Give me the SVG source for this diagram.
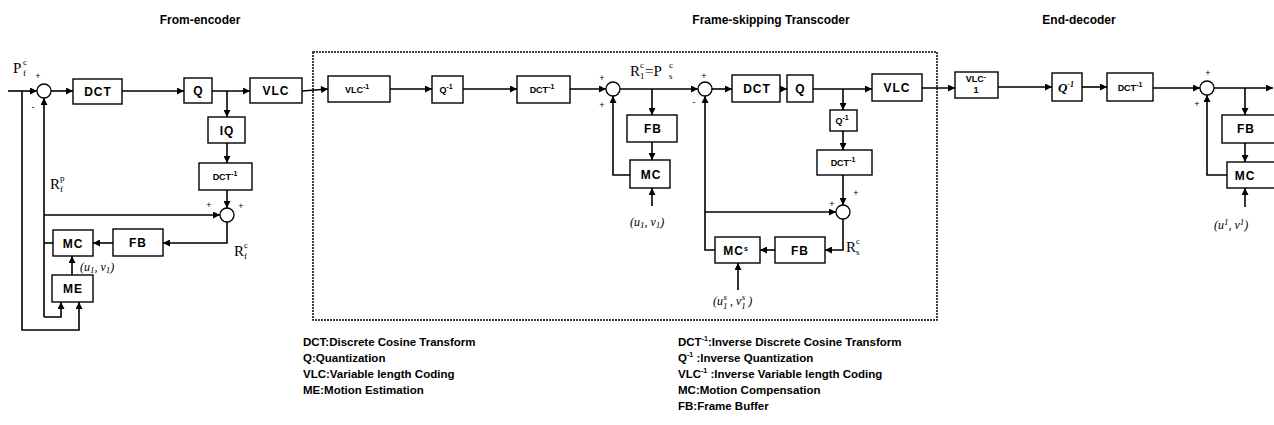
<svg xmlns="http://www.w3.org/2000/svg" width="1274" height="425" viewBox="0 0 1274 425">
<defs>
<marker id="ah" viewBox="0 0 10 10" refX="10" refY="5" markerWidth="8" markerHeight="7" orient="auto" markerUnits="userSpaceOnUse"><path d="M0,0 L10,5 L0,10 z" fill="#000"/></marker>
</defs>
<style>
.b{fill:#fff;stroke:#000;stroke-width:1.4}
.c{fill:#fff;stroke:#000;stroke-width:1.3}
.w{fill:none;stroke:#000;stroke-width:1.6;marker-end:url(#ah)}
.n{fill:none;stroke:#000;stroke-width:1.6}
.t{font-family:"Liberation Sans",Arial,sans-serif;font-weight:bold;font-size:12px;text-anchor:middle;letter-spacing:1px;fill:#000}
.ts{font-family:"Liberation Sans",Arial,sans-serif;font-weight:bold;font-size:9px;text-anchor:middle;fill:#000}
.sup{font-size:7px}
.m{font-family:"Liberation Sans",Arial,sans-serif;font-size:9px;text-anchor:middle;fill:#000}
.r{font-family:"Liberation Serif","Times New Roman",serif;font-size:15px;fill:#000}
.rs{font-family:"Liberation Serif","Times New Roman",serif;font-size:9px;fill:#000}
.uv{font-family:"Liberation Serif","Times New Roman",serif;font-size:12px;font-style:italic;fill:#000}
.ttl{font-family:"Liberation Sans",Arial,sans-serif;font-weight:bold;font-size:12px;text-anchor:middle;fill:#000}
.lg{font-family:"Liberation Sans",Arial,sans-serif;font-weight:bold;font-size:11.5px;fill:#000}
</style>
<rect x="0" y="0" width="1274" height="425" fill="#fff"/>

<g id="titles">
<text class="ttl" x="200" y="24">From-encoder</text>
<text class="ttl" x="771" y="24">Frame-skipping Transcoder</text>
<text class="ttl" x="1079" y="24">End-decoder</text>
</g>

<g id="transcoder-boundary">
<rect x="313" y="52" width="624" height="268" fill="none" stroke="#000" stroke-width="1.5" stroke-dasharray="2,1"/>
</g>

<g id="connectors">
<!-- encoder -->
<path class="w" d="M8,91 H37"/>
<path class="w" d="M51,91 H73"/>
<path class="w" d="M122,91 H184"/>
<path class="w" d="M212,91 H250"/>
<path class="w" d="M227,91 V117"/>
<path class="w" d="M227,143 V163"/>
<path class="w" d="M227,190 V208"/>
<path class="w" d="M44,215 H220"/>
<path class="w" d="M227,222 V243 H163"/>
<path class="w" d="M113,243 H93"/>
<path class="n" d="M53,243 H44"/>
<path class="w" d="M44,317 V98"/>
<path class="w" d="M44,317 H61 V302"/>
<path class="w" d="M22,91 V330 H79 V302"/>
<path class="w" d="M72,275 V256"/>
<path class="w" d="M302,91 L328,89"/>
<!-- transcoder -->
<path class="w" d="M390,89 H432"/>
<path class="w" d="M463,89 H517"/>
<path class="w" d="M570,89 H606"/>
<path class="w" d="M620,89 H698"/>
<path class="w" d="M652,89 V115"/>
<path class="w" d="M652,142 V160"/>
<path class="w" d="M630,175 H613 V96"/>
<path class="w" d="M652,206 V188"/>
<path class="w" d="M712,89 H732"/>
<path class="w" d="M780,89 H787"/>
<path class="w" d="M813,89 H872"/>
<path class="w" d="M843,89 V110"/>
<path class="w" d="M843,131 V150"/>
<path class="w" d="M843,175 V205"/>
<path class="w" d="M705,212 H836"/>
<path class="w" d="M843,219 V250 H825"/>
<path class="w" d="M775,250 H760"/>
<path class="w" d="M715,250 H705 V96"/>
<path class="w" d="M738,290 V263"/>
<path class="w" d="M922,88 H955"/>
<!-- decoder -->
<path class="w" d="M998,87 H1052"/>
<path class="w" d="M1082,87 H1107"/>
<path class="w" d="M1153,88 H1200"/>
<path class="w" d="M1214,88 H1273"/>
<path class="w" d="M1245,88 V115"/>
<path class="w" d="M1245,143 V162"/>
<path class="w" d="M1227,175 H1207 V95"/>
<path class="w" d="M1245,207 V188"/>
</g>

<!-- ===== From-encoder ===== -->
<g id="enc-input-label">
<text class="r" x="13" y="73">P</text><text class="rs" x="23" y="65">c</text><text class="rs" x="23" y="76">f</text>
<text class="m" x="38" y="79">+</text>
<text class="m" x="33" y="110">-</text>
</g>
<g id="enc-sum1"><circle class="c" cx="44" cy="91" r="7"/></g>
<g id="enc-dct"><rect class="b" x="73" y="79" width="49" height="25"/><text class="t" x="98" y="96">DCT</text></g>
<g id="enc-q"><rect class="b" x="184" y="78" width="28" height="25"/><text class="t" x="198.5" y="95">Q</text></g>
<g id="enc-vlc"><rect class="b" x="250" y="78" width="52" height="25"/><text class="t" x="276" y="95">VLC</text></g>
<g id="enc-iq"><rect class="b" x="208" y="117" width="37" height="26"/><text class="t" x="227" y="135">IQ</text></g>
<g id="enc-idct"><rect class="b" x="199" y="163" width="53" height="27"/><text class="ts" x="225" y="180">DCT<tspan class="sup" dy="-4">-1</tspan></text></g>
<g id="enc-sum2"><circle class="c" cx="227" cy="215" r="7"/>
<text class="m" x="209" y="208">+</text><text class="m" x="241" y="209">+</text></g>
<g id="enc-fb"><rect class="b" x="113" y="229" width="50" height="27"/><text class="t" x="138" y="247">FB</text></g>
<g id="enc-mc"><rect class="b" x="53" y="230" width="40" height="26"/><text class="t" x="73" y="248">MC</text></g>
<g id="enc-me"><rect class="b" x="52" y="275" width="41" height="27"/><text class="t" x="73" y="293">ME</text></g>
<g id="enc-labels">
<text class="uv" x="80" y="271">(u<tspan class="rs" dy="2">1</tspan><tspan dy="-2">, v</tspan><tspan class="rs" dy="2">1</tspan><tspan dy="-2">)</tspan></text>
<text class="r" x="50" y="189">R</text><text class="rs" x="60" y="181">p</text><text class="rs" x="60" y="192">f</text>
<text class="r" x="234" y="256">R</text><text class="rs" x="244" y="248">c</text><text class="rs" x="244" y="259">f</text>
</g>

<!-- ===== Transcoder ===== -->
<g id="tr-ivlc"><rect class="b" x="328" y="76" width="62" height="26"/><text class="ts" x="357" y="93">VLC<tspan class="sup" dy="-4">-1</tspan></text></g>
<g id="tr-iq"><rect class="b" x="432" y="76" width="31" height="27"/><text class="ts" x="446" y="93">Q<tspan class="sup" dy="-4">-1</tspan></text></g>
<g id="tr-idct"><rect class="b" x="517" y="76" width="53" height="27"/><text class="ts" x="542" y="93">DCT<tspan class="sup" dy="-4">-1</tspan></text></g>
<g id="tr-sum1"><circle class="c" cx="613" cy="89" r="7"/>
<text class="m" x="602" y="81">+</text><text class="m" x="602" y="108">+</text></g>
<g id="tr-label-r1">
<text class="r" x="630" y="76">R</text><text class="rs" x="640" y="68">c</text><text class="rs" x="640" y="79">1</text>
<text class="r" x="645" y="76">=P</text><text class="rs" x="669" y="68">c</text><text class="rs" x="669" y="79">s</text>
</g>
<g id="tr-fb1"><rect class="b" x="627" y="115" width="50" height="27"/><text class="t" x="653" y="133">FB</text></g>
<g id="tr-mc1"><rect class="b" x="630" y="160" width="40" height="28"/><text class="t" x="651" y="179">MC</text></g>
<g id="tr-uv1"><text class="uv" x="630" y="226">(u<tspan class="rs" dy="2">1</tspan><tspan dy="-2">, v</tspan><tspan class="rs" dy="2">1</tspan><tspan dy="-2">)</tspan></text></g>
<g id="tr-sum2"><circle class="c" cx="705" cy="89" r="7"/>
<text class="m" x="704" y="79">+</text><text class="m" x="694" y="105">-</text></g>
<g id="tr-dct"><rect class="b" x="732" y="75" width="48" height="27"/><text class="t" x="757" y="93">DCT</text></g>
<g id="tr-q"><rect class="b" x="787" y="75" width="26" height="27"/><text class="t" x="800.5" y="93">Q</text></g>
<g id="tr-vlc"><rect class="b" x="872" y="74" width="50" height="27"/><text class="t" x="897" y="92" font-size="13">VLC</text></g>
<g id="tr-iq2"><rect class="b" x="830" y="110" width="27" height="21"/><text class="ts" x="842" y="124">Q<tspan class="sup" dy="-4">-1</tspan></text></g>
<g id="tr-idct2"><rect class="b" x="817" y="150" width="55" height="25"/><text class="ts" x="843" y="166">DCT<tspan class="sup" dy="-4">-1</tspan></text></g>
<g id="tr-sum3"><circle class="c" cx="843" cy="212" r="7"/>
<text class="m" x="856" y="196">+</text><text class="m" x="832" y="207">+</text></g>
<g id="tr-fb2"><rect class="b" x="775" y="237" width="50" height="26"/><text class="t" x="800" y="255">FB</text></g>
<g id="tr-mcs"><rect class="b" x="715" y="237" width="45" height="26"/><text class="t" x="736" y="255">MC<tspan class="sup" dy="-4">s</tspan></text></g>
<g id="tr-labels">
<text class="uv" x="713" y="305">(u<tspan class="rs" dy="4">1</tspan><tspan class="rs" dx="-4" dy="-9">s</tspan><tspan dy="5"> , v</tspan><tspan class="rs" dy="4">1</tspan><tspan class="rs" dx="-4" dy="-9">s</tspan><tspan dy="5"> )</tspan></text>
<text class="r" x="846" y="252">R</text><text class="rs" x="856" y="244">c</text><text class="rs" x="856" y="255">s</text>
</g>

<!-- ===== End-decoder ===== -->
<g id="dec-ivlc"><rect class="b" x="955" y="72" width="43" height="26"/><text class="ts" x="976" y="82">VLC<tspan class="sup" dy="-3">-</tspan></text><text class="ts" x="976" y="93">1</text></g>
<g id="dec-iq"><rect class="b" x="1052" y="73" width="30" height="28"/><text x="1066" y="92" text-anchor="middle" font-family="Liberation Serif, serif" font-style="italic" font-weight="bold" font-size="13">Q<tspan font-size="8" dy="-5">-1</tspan></text></g>
<g id="dec-idct"><rect class="b" x="1107" y="73" width="46" height="28"/><text class="ts" x="1130" y="91">DCT<tspan class="sup" dy="-4">-1</tspan></text></g>
<g id="dec-sum"><circle class="c" cx="1207" cy="88" r="7"/>
<text class="m" x="1208" y="76">+</text><text class="m" x="1197" y="107">+</text></g>
<g id="dec-fb"><rect class="b" x="1222" y="115" width="60" height="28"/><text class="t" x="1246" y="133">FB</text></g>
<g id="dec-mc"><rect class="b" x="1227" y="162" width="55" height="26"/><text class="t" x="1245" y="180">MC</text></g>
<g id="dec-uv"><text class="uv" x="1214" y="229">(u<tspan class="rs" dy="-4">1</tspan><tspan dy="4">, v</tspan><tspan class="rs" dy="-4">1</tspan><tspan dy="4">)</tspan></text></g>

<g id="legend">
<text class="lg" x="303" y="346">DCT:Discrete Cosine Transform</text>
<text class="lg" x="303" y="362">Q:Quantization</text>
<text class="lg" x="303" y="378">VLC:Variable length Coding</text>
<text class="lg" x="303" y="394">ME:Motion Estimation</text>
<text class="lg" x="678" y="346">DCT<tspan font-size="7" dy="-5">-1</tspan><tspan dy="5">:Inverse Discrete Cosine Transform</tspan></text>
<text class="lg" x="678" y="362">Q<tspan font-size="7" dy="-5">-1</tspan><tspan dy="5"> :Inverse Quantization</tspan></text>
<text class="lg" x="678" y="378">VLC<tspan font-size="7" dy="-5">-1</tspan><tspan dy="5"> :Inverse Variable length Coding</tspan></text>
<text class="lg" x="678" y="394">MC:Motion Compensation</text>
<text class="lg" x="678" y="410">FB:Frame Buffer</text>
</g>
</svg>
